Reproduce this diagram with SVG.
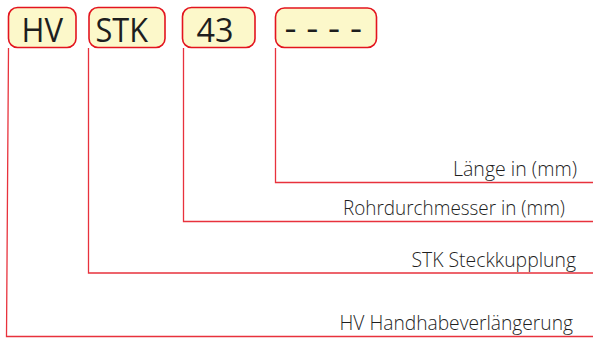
<svg xmlns="http://www.w3.org/2000/svg" width="593" height="338" viewBox="0 0 593 338">
<style>
.box{fill:#fcf8ca;stroke:#e3141e;stroke-width:1.6}
.code{font-family:"Open Sans","Noto Sans",sans-serif;font-weight:400;font-size:32px;fill:#1e1e1e}
.lbl{font-family:"Open Sans","Noto Sans",sans-serif;font-weight:300;font-size:21px;fill:#1f1f1f}
.ln{fill:none;stroke:#e8323c;stroke-width:1.3}
</style>
<rect width="593" height="338" fill="#ffffff"/>
<g id="connectors">
<polyline class="ln" points="8.5,48 6.5,336.5 593,336.5"/>
<polyline class="ln" points="88.5,48 88.5,273 593,273"/>
<polyline class="ln" points="183.5,48 183.5,221.5 593,221.5"/>
<polyline class="ln" points="275.5,48 275.5,182.5 593,182.5"/>
</g>
<g id="node-hv">
<rect class="box" x="8.5" y="7.5" width="67.5" height="40" rx="9"/>
<text class="code" x="21.5" y="41.5" textLength="41.5" lengthAdjust="spacingAndGlyphs">HV</text>
</g>
<g id="node-stk">
<rect class="box" x="89" y="7.5" width="76" height="40" rx="9"/>
<text class="code" x="95.5" y="41.5" textLength="52.5" lengthAdjust="spacingAndGlyphs">STK</text>
</g>
<g id="node-43">
<rect class="box" x="182.5" y="7.5" width="72.5" height="40" rx="9"/>
<text class="code" x="196.5" y="41.5" textLength="37" lengthAdjust="spacingAndGlyphs">43</text>
</g>
<g id="node-len">
<rect class="box" x="275.5" y="8" width="101" height="39.5" rx="9"/>
<text class="code" x="284.5" y="40" textLength="77.5" lengthAdjust="spacingAndGlyphs">- - - -</text>
</g>
<g id="labels">
<text class="lbl" x="453" y="176" textLength="124" lengthAdjust="spacingAndGlyphs">Länge in (mm)</text>
<text class="lbl" x="343" y="215" textLength="222" lengthAdjust="spacingAndGlyphs">Rohrdurchmesser in (mm)</text>
<text class="lbl" x="411.5" y="266.5" textLength="164.5" lengthAdjust="spacingAndGlyphs">STK Steckkupplung</text>
<text class="lbl" x="339.5" y="330" textLength="233.5" lengthAdjust="spacingAndGlyphs">HV Handhabeverlängerung</text>
</g>
</svg>
